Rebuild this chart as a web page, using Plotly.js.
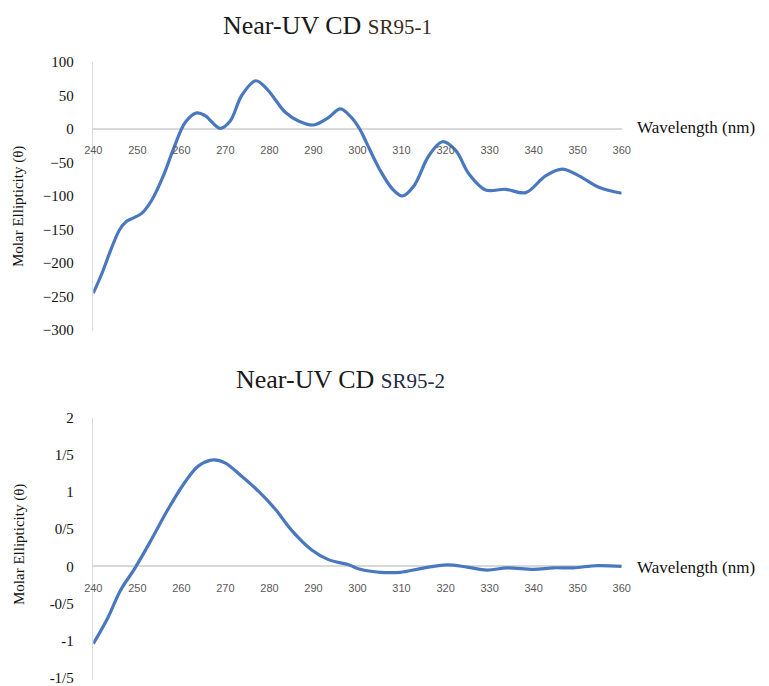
<!DOCTYPE html>
<html>
<head>
<meta charset="utf-8">
<script src="https://cdn.plot.ly/plotly-3.0.1.min.js"></script>
<style>html,body{margin:0;padding:0;background:#fff;}#chart{width:769px;height:686px;}</style>
</head>
<body>
<div id="chart"></div>
<script>
// ---- Data ----
const wavelength1 = [240, 242, 244, 246, 247.5, 249, 251, 253.3, 255.9, 258.2, 260.9, 263.5, 265.4, 268.8, 271.1, 273.7, 276.9, 279.4, 283.6, 286.6, 290, 293.4, 296.1, 298.5, 300.5, 302, 305, 308, 310.2, 312.8, 316.2, 319.3, 322.3, 325.3, 329.1, 333.6, 338.2, 342.7, 346.5, 350.3, 354.8, 360];
const ellipticity1 = [-245, -215, -180, -150, -138, -133, -126, -106, -70, -30, 10, 24, 20, 1, 12, 50, 72, 60, 25, 12, 6, 17, 30, 18, 0, -20, -60, -90, -100, -85, -40, -19, -32, -67, -91, -90, -95, -70, -60, -70, -87, -96];

const wavelength2 = [240, 243.4, 246.1, 249.5, 253.3, 257, 260.8, 263.9, 267.3, 269.9, 273.7, 277.5, 281.3, 285.1, 289.6, 293.4, 298, 300.6, 305.2, 309.7, 314.3, 320.3, 324.9, 329.4, 334, 340, 344.5, 349, 354.4, 360];
const ellipticity2 = [-1.04, -0.68, -0.33, -0.02, 0.37, 0.77, 1.13, 1.35, 1.43, 1.39, 1.21, 1.01, 0.77, 0.48, 0.22, 0.09, 0.02, -0.04, -0.08, -0.08, -0.03, 0.02, -0.01, -0.05, -0.02, -0.04, -0.02, -0.02, 0.01, 0.0];

const xTicks = [240, 250, 260, 270, 280, 290, 300, 310, 320, 330, 340, 350, 360];
const yTicks1 = [-300, -250, -200, -150, -100, -50, 0, 50, 100];
const yTicks2 = [-1.5, -1, -0.5, 0, 0.5, 1, 1.5, 2];
const yTickText2 = ['-1/5', '-1', '-0/5', '0', '0/5', '1', '1/5', '2'];

const title1 = 'Near-UV CD <span style="font-size:21px;color:#3b2c1c">SR95-1</span>';
const title2 = 'Near-UV CD <span style="font-size:21px;color:#1f2a44">SR95-2</span>';
const yTitle = 'Molar Ellipticity (θ)';
const xTitle = 'Wavelength (nm)';

// ---- Chart ----
const lineStyle = {color: '#4a78be', width: 3.2, shape: 'spline', smoothing: 1};
const traces = [
  {x: wavelength1, y: ellipticity1, xaxis: 'x', yaxis: 'y', mode: 'lines', line: lineStyle, hoverinfo: 'skip'},
  {x: wavelength2, y: ellipticity2, xaxis: 'x2', yaxis: 'y2', mode: 'lines', line: lineStyle, hoverinfo: 'skip'}
];

const xdom = [93.3/769, 621.7/769];
const serif = 'Liberation Serif';
const sans = 'Liberation Sans';

const xCommon = {
  range: [240, 360], domain: xdom, anchor: 'free',
  tickvals: xTicks, ticks: '', showgrid: false, showline: false, zeroline: false,
  tickfont: {family: sans, size: 11, color: '#595959'}, ticklabelstandoff: 14
};
const yCommon = {
  showgrid: false, ticks: '', showline: true, linecolor: '#d9d9d9', linewidth: 1.5,
  zeroline: true, zerolinecolor: '#d9d9d9', zerolinewidth: 2, ticklabeloverflow: 'allow',
  tickfont: {family: serif, size: 15, color: '#111'}, ticklabelstandoff: 15
};

const layout = {
  width: 769, height: 686,
  margin: {l: 0, r: 0, t: 0, b: 0},
  paper_bgcolor: '#fff', plot_bgcolor: 'rgba(0,0,0,0)',
  showlegend: false,
  xaxis: Object.assign({}, xCommon, {position: (686-128.3)/686}),
  xaxis2: Object.assign({}, xCommon, {position: (686-566.4)/686}),
  yaxis: Object.assign({}, yCommon, {range: [-302, 100], tickvals: yTicks1, domain: [(686-331.3)/686, (686-62)/686], anchor: 'x'}),
  yaxis2: Object.assign({}, yCommon, {range: [-1.53, 2], tickvals: yTicks2, ticktext: yTickText2, domain: [(686-680.2)/686, (686-417.5)/686], anchor: 'x2'}),
  annotations: [
    {text: title1, xref: 'paper', yref: 'paper', x: 327/769, y: (686-25)/686, showarrow: false, xanchor: 'center', yanchor: 'middle', font: {family: serif, size: 26, color: '#1a1a1a'}},
    {text: title2, xref: 'paper', yref: 'paper', x: 340/769, y: (686-379)/686, showarrow: false, xanchor: 'center', yanchor: 'middle', font: {family: serif, size: 26, color: '#1a1a1a'}},
    {text: xTitle, xref: 'paper', yref: 'paper', x: 635/769, y: (686-128)/686, showarrow: false, xanchor: 'left', yanchor: 'middle', font: {family: serif, size: 17, color: '#111'}},
    {text: xTitle, xref: 'paper', yref: 'paper', x: 635/769, y: (686-567)/686, showarrow: false, xanchor: 'left', yanchor: 'middle', font: {family: serif, size: 17, color: '#111'}},
    {text: yTitle, xref: 'paper', yref: 'paper', x: 19/769, y: (686-207)/686, showarrow: false, textangle: -90, xanchor: 'center', yanchor: 'middle', font: {family: serif, size: 15, color: '#111'}},
    {text: yTitle, xref: 'paper', yref: 'paper', x: 19/769, y: (686-545)/686, showarrow: false, textangle: -90, xanchor: 'center', yanchor: 'middle', font: {family: serif, size: 15, color: '#111'}}
  ]
};

Plotly.newPlot('chart', traces, layout, {displayModeBar: false, staticPlot: true});
</script>
</body>
</html>
